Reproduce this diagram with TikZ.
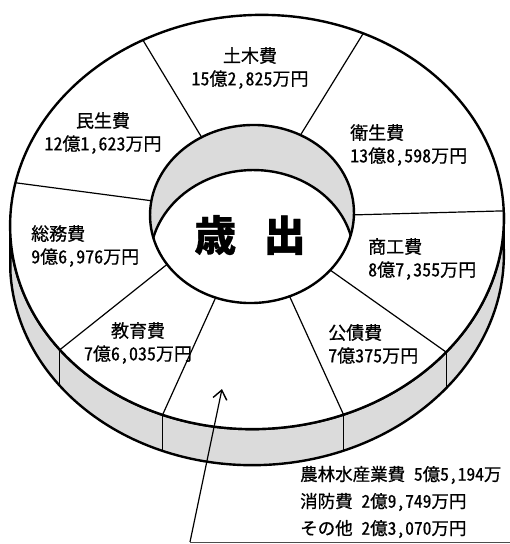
\documentclass[tikz,border=0pt]{standalone}
\usepackage{fontspec}
\newfontfamily\jp[RawFeature={+hwid;embolden=0.7}]{Noto Sans CJK JP}
\usetikzlibrary{arrows.meta}
\definecolor{bandgray}{gray}{0.86}
\tikzset{
  rim/.style={line width=2.4pt},
  seg/.style={line width=1.2pt},
  lbl/.style={font=\jp\fontsize{18}{23}\selectfont, inner sep=0pt},
}
\begin{document}
\begin{tikzpicture}[x=1pt,y=-1pt,line join=round,>={Straight Barb[length=9pt,width=14pt,line width=1.4pt]}]
\useasboundingbox (0,0) rectangle (510,544);

% outer ring: side band and top face
\begin{scope}[shift={(257,222)},rotate=3]
  \filldraw[fill=bandgray,rim] (0:247 and 207)
    arc[start angle=0,end angle=180,x radius=247,y radius=207]
    -- ++(-1.9,36)
    arc[start angle=180,end angle=0,x radius=247,y radius=207] -- cycle;
  \filldraw[fill=white,rim] (0,0) ellipse[x radius=247,y radius=207];
  \foreach \a [count=\i] in {-115,-62,0.5,42.5,72,115,145.5,194.5}
    \coordinate (o\i) at (\a:247 and 207);
\end{scope}

% hole in the middle
\begin{scope}[shift={(252,214)},rotate=3]
  \begin{scope}
    \clip (0,0) ellipse[x radius=102,y radius=89];
    \fill[bandgray] (0,0) ellipse[x radius=102,y radius=89];
    \filldraw[fill=white,rim] (-2.4,45) ellipse[x radius=102,y radius=89];
  \end{scope}
  \draw[rim] (0,0) ellipse[x radius=102,y radius=89];
  \foreach \a [count=\i] in {-117,-59,4,42.5,71,113.5,149,192}
    \coordinate (i\i) at (\a:102 and 89);
\end{scope}

% segment borders
\foreach \i in {1,...,8}
  \draw[seg] (i\i) -- (o\i);
\foreach \i in {4,5,6,7}
  \draw[seg] (o\i) -- ++(0,36);

\node[font=\jp\bfseries\fontsize{42}{42}\selectfont] (sai) at (250,235) {歳\hspace{0.65em}出};

\node[lbl,align=center] (doboku) at (250,68) {土木費\\15億2,825万円};
\node[lbl,align=center] (minsei) at (103,133) {民生費\\12億1,623万円};
\node[lbl,align=left,anchor=west] (eisei) at (350,145) {衛生費\\13億8,598万円};
\node[lbl,align=left,anchor=west] (soumu) at (31,246) {総務費\\9億6,976万円};
\node[lbl,align=left,anchor=west] (shoko) at (368,259) {商工費\\8億7,355万円};
\node[lbl,align=center] (kyoiku) at (138,343) {教育費\\7億6,035万円};
\node[lbl,align=left,anchor=west] (kosai) at (328,344) {公債費\\7億375万円};
\node[lbl,align=left,anchor=west,font=\jp\fontsize{17.5}{27}\selectfont] (sonota) at (300,502)
  {農林水産業費 5億5,194万\\消防費 2億9,749万円\\その他 2億3,070万円};

\coordinate (foot) at (190,542);
\coordinate (tip) at (222,389);
\draw[line width=1.2pt,->] (foot) -- (tip);
\draw[line width=1pt,black!70] (foot) -- (510,542);

\end{tikzpicture}
\end{document}
